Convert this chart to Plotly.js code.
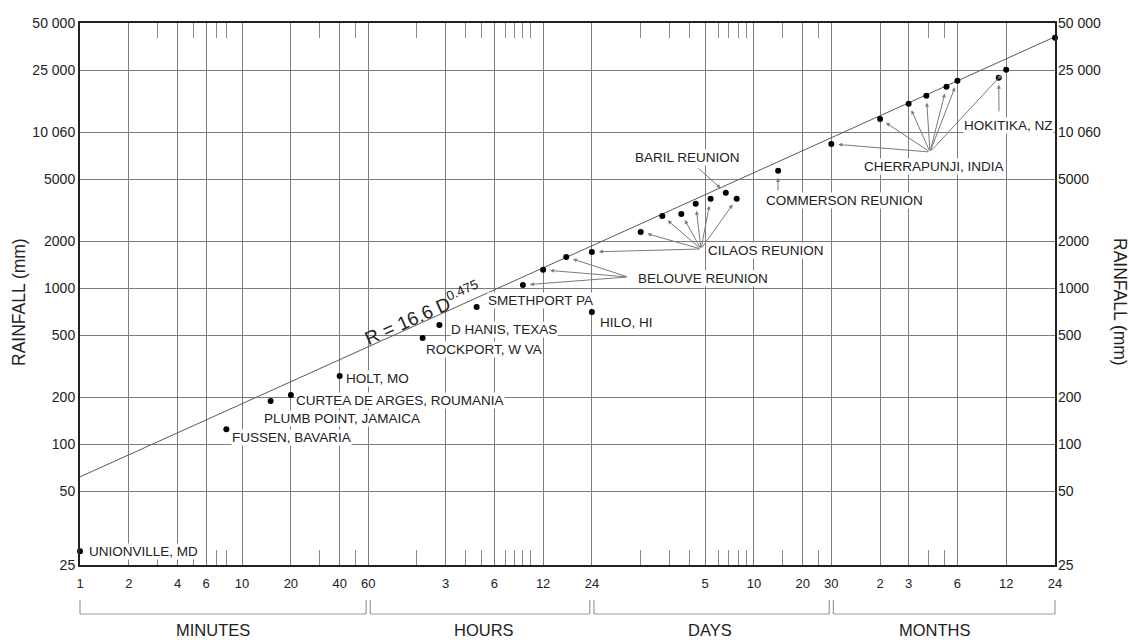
<!DOCTYPE html>
<html>
<head>
<meta charset="utf-8">
<script src="https://cdn.plot.ly/plotly-3.0.1.min.js"></script>
<style>html,body{margin:0;padding:0;background:#fff}#chart{width:1129px;height:640px}</style>
</head>
<body>
<div id="chart"></div>
<script>
// ---------- DATA (duration in minutes, rainfall in mm) ----------
const durationMin = [1, 8, 15, 20, 40, 130, 165, 280, 540, 720, 1000, 1440, 1440,
  2880, 3917, 5130, 6293, 7776, 9650, 11260, 20300,
  43200, 86400, 129600, 166700, 222000, 259200, 466000, 518400, 1036800];
const rainfallMm = [20.7, 125, 190, 207, 274, 481, 582, 760, 1050, 1312, 1589, 1710, 705,
  2296, 2909, 2995, 3473, 3740, 4086, 3740, 5650,
  8410, 12160, 15200, 17100, 19540, 21330, 22290, 25100, 40270];

// envelope line R = 16.6 D^0.475 (end points)
const envelopeDurationMin = [1, 1036800];
const envelopeRainfallMm = [62, 40800];

const xTickVals = [1, 2, 4, 6, 10, 20, 40, 60, 180, 360, 720, 1440, 7200, 14400, 28800, 43200, 86400, 129600, 259200, 518400, 1036800];
const xTickText = ['1', '2', '4', '6', '10', '20', '40', '60', '3', '6', '12', '24', '5', '10', '20', '30', '2', '3', '6', '12', '24'];
const xMinorTickVals = [3, 5, 7, 8, 30, 50, 120, 240, 300, 420, 480, 540, 600,
  2880, 4320, 5760, 8640, 10080, 11520, 12960, 21600, 36000, 172800, 216000];

const yAxisBottom = 16.9;
const yAxisTop = 50000;
const yTickVals = [yAxisBottom, 50, 100, 200, 500, 1000, 2000, 5000, 10000, 25000, 50000];
const yTickText = ['25', '50', '100', '200', '500', '1000', '2000', '5000', '10 060', '25 000', '50 000'];

const unitNames = ['MINUTES', 'HOURS', 'DAYS', 'MONTHS'];
const unitBounds = [1, 60, 1440, 43200, 1036800];

const stationNames = ['UNIONVILLE, MD', 'FUSSEN, BAVARIA', 'PLUMB POINT, JAMAICA', 'CURTEA DE ARGES, ROUMANIA',
  'HOLT, MO', 'ROCKPORT, W VA', 'D HANIS, TEXAS', 'SMETHPORT PA', 'HILO, HI', 'BELOUVE REUNION',
  'CILAOS REUNION', 'BARIL REUNION', 'COMMERSON REUNION', 'CHERRAPUNJI, INDIA', 'HOKITIKA, NZ'];
// indices of the points each station label points to with arrows
const stationArrowTargets = [[], [], [], [], [], [], [], [], [], [8, 9, 10],
  [11, 13, 14, 15, 16, 17, 19], [18], [20], [21, 22, 23, 24, 25, 26, 28], [27]];

const equationText = 'R = 16.6 D<sup>0.475</sup>';
const axisTitle = 'RAINFALL (mm)';

// ---------- LAYOUT GEOMETRY ----------
const W = 1129, H = 640, ML = 80, MR = 74, MT = 23, MB = 75;
const PW = W - ML - MR, PH = H - MT - MB;
const xLogMax = Math.log10(unitBounds[unitBounds.length - 1]);
const yLogMin = Math.log10(yAxisBottom), yLogMax = Math.log10(yAxisTop);
const px2paperX = px => (px - ML) / PW;
const py2paperY = py => (H - MB - py) / PH;
const px2logX = px => (px - ML) / PW * xLogMax;
const py2logY = py => yLogMin + (H - MB - py) / PH * (yLogMax - yLogMin);

// label anchors (left edge, vertical middle) in pixels
const labelPos = [[88, 551], [231, 437], [263, 418], [295, 400], [345, 378], [425, 350], [450, 329],
  [487, 300], [599, 322], [637, 278], [707, 251], [634, 158], [765, 200], [863, 167], [963, 126]];
// arrow tail origin in pixels for labels with arrows
const arrowTail = {9: [628, 277], 10: [701, 249], 11: [697, 167], 12: [778, 192], 13: [930, 152], 14: [999, 113]};

const FONT = 'Liberation Sans, Arial, Helvetica, sans-serif';
const TXT = '#222';

const annotations = [];
stationNames.forEach((name, i) => {
  annotations.push({
    text: name, xref: 'paper', yref: 'paper', x: px2paperX(labelPos[i][0]), y: py2paperY(labelPos[i][1]),
    xanchor: 'left', yanchor: 'middle', showarrow: false, bgcolor: '#ffffff', borderpad: 0,
    font: {family: FONT, size: 13.5, color: TXT}
  });
});
stationNames.forEach((name, i) => {
  const tail = arrowTail[i];
  stationArrowTargets[i].forEach(k => {
    annotations.push({
      text: '', xref: 'x', yref: 'y', axref: 'x', ayref: 'y',
      x: Math.log10(durationMin[k]), y: Math.log10(rainfallMm[k]),
      ax: px2logX(tail[0]), ay: py2logY(tail[1]),
      showarrow: true, arrowhead: 2, arrowsize: 0.8, arrowwidth: 1, arrowcolor: '#7a7a7a', standoff: 7
    });
  });
});
// equation
annotations.push({
  text: equationText, xref: 'paper', yref: 'paper', x: px2paperX(422), y: py2paperY(313),
  xanchor: 'center', yanchor: 'middle', showarrow: false, textangle: -24,
  font: {family: FONT, size: 19, color: TXT}
});
// axis titles
annotations.push({
  text: axisTitle, xref: 'paper', yref: 'paper', x: px2paperX(19), y: py2paperY(302),
  xanchor: 'center', yanchor: 'middle', showarrow: false, textangle: -90,
  font: {family: FONT, size: 17.5, color: TXT}
});
annotations.push({
  text: axisTitle, xref: 'paper', yref: 'paper', x: px2paperX(1120), y: py2paperY(302),
  xanchor: 'center', yanchor: 'middle', showarrow: false, textangle: 90,
  font: {family: FONT, size: 17.5, color: TXT}
});
// unit names and brackets
const shapes = [];
const unitLabelPx = [213, 484, 710, 935];
const gap = 1.03;
unitNames.forEach((u, i) => {
  annotations.push({
    text: u, xref: 'paper', yref: 'paper', x: px2paperX(unitLabelPx[i]), y: py2paperY(630),
    xanchor: 'center', yanchor: 'middle', showarrow: false,
    font: {family: FONT, size: 16.5, color: TXT}
  });
  const a = Math.log10(unitBounds[i] * (i > 0 ? gap : 1)) / xLogMax;
  const b = Math.log10(unitBounds[i + 1] / (i < unitNames.length - 1 ? gap : 1)) / xLogMax;
  const yt = py2paperY(600), yb = py2paperY(614);
  const ln = {color: '#9a9a9a', width: 1.2};
  shapes.push({type: 'line', xref: 'paper', yref: 'paper', x0: a, x1: a, y0: yt, y1: yb, line: ln});
  shapes.push({type: 'line', xref: 'paper', yref: 'paper', x0: b, x1: b, y0: yt, y1: yb, line: ln});
  shapes.push({type: 'line', xref: 'paper', yref: 'paper', x0: a, x1: b, y0: yb, y1: yb, line: ln});
});

const traces = [
  {x: envelopeDurationMin, y: envelopeRainfallMm, type: 'scatter', mode: 'lines',
   line: {color: '#5a5a5a', width: 1}, hoverinfo: 'skip', showlegend: false},
  {x: durationMin, y: rainfallMm, type: 'scatter', mode: 'markers', cliponaxis: false,
   marker: {color: '#000', size: 6}, showlegend: false},
  {x: envelopeDurationMin, y: envelopeRainfallMm, xaxis: 'x2', yaxis: 'y2', type: 'scatter', mode: 'lines',
   line: {color: 'rgba(0,0,0,0)', width: 0}, hoverinfo: 'skip', showlegend: false}
];

const minorTicks = {tickmode: 'array', tickvals: xMinorTickVals, ticks: 'inside', ticklen: 15,
  tickcolor: '#8a8a8a', tickwidth: 1, showgrid: false};

const layout = {
  width: W, height: H,
  margin: {l: ML, r: MR, t: MT, b: MB},
  paper_bgcolor: '#fff', plot_bgcolor: '#fff',
  font: {family: FONT, color: TXT},
  showlegend: false,
  xaxis: {
    type: 'log', range: [0, xLogMax], tickmode: 'array', tickvals: xTickVals, ticktext: xTickText,
    ticks: '', tickfont: {size: 13, color: TXT}, showgrid: true, gridcolor: '#7d7d7d', gridwidth: 1,
    showline: true, linecolor: '#222', linewidth: 2, mirror: true, zeroline: false,
    minor: minorTicks, ticklabelstandoff: 5
  },
  yaxis: {
    type: 'log', range: [yLogMin, yLogMax], tickmode: 'array', tickvals: yTickVals, ticktext: yTickText,
    ticks: '', tickfont: {size: 14, color: TXT}, showgrid: true, gridcolor: '#7d7d7d', gridwidth: 1,
    showline: true, linecolor: '#222', linewidth: 2, mirror: true, zeroline: false
  },
  xaxis2: {
    type: 'log', range: [0, xLogMax], overlaying: 'x', side: 'top', anchor: 'y2',
    tickmode: 'array', tickvals: [], showticklabels: false, ticks: '', showgrid: false,
    showline: false, zeroline: false, minor: minorTicks
  },
  yaxis2: {
    type: 'log', range: [yLogMin, yLogMax], overlaying: 'y', side: 'right', anchor: 'x2',
    tickmode: 'array', tickvals: yTickVals, ticktext: yTickText, ticks: '',
    tickfont: {size: 14, color: TXT}, showgrid: false, showline: false, zeroline: false,
    ticklabelstandoff: 2
  },
  annotations: annotations,
  shapes: shapes
};

Plotly.newPlot('chart', traces, layout, {staticPlot: true, displayModeBar: false});
</script>
</body>
</html>
